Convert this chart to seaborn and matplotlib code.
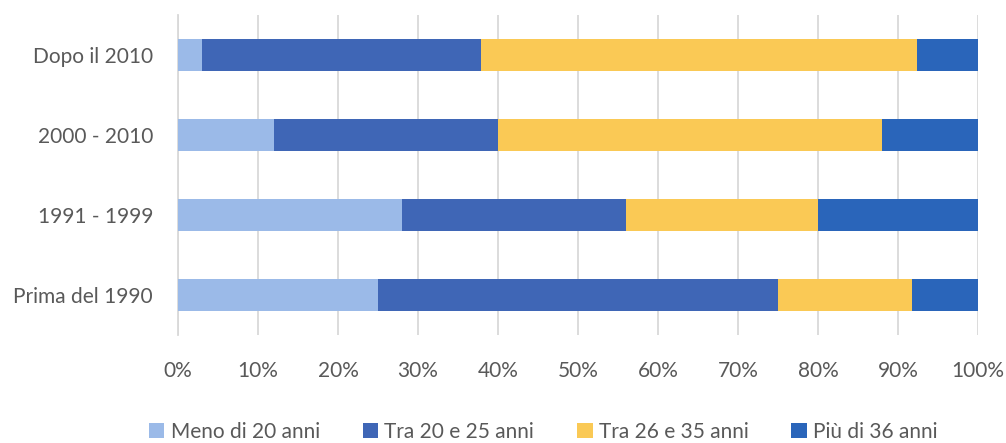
import matplotlib
matplotlib.use("Agg")
import matplotlib.pyplot as plt
import seaborn as sns
import numpy as np
import pandas as pd
from matplotlib.patches import Patch

# Periodi (dall'alto verso il basso)
periodi = ["Dopo il 2010", "2000 - 2010", "1991 - 1999", "Prima del 1990"]

# Quote percentuali per fascia d'età
meno_20 = [3.0, 12.0, 28.0, 25.0]
tra_20_25 = [34.9, 28.0, 28.0, 50.0]
tra_26_35 = [54.5, 48.0, 24.0, 16.7]
piu_36 = [7.6, 12.0, 20.0, 8.3]

serie = ["Meno di 20 anni", "Tra 20 e 25 anni", "Tra 26 e 35 anni", "Più di 36 anni"]
valori = [meno_20, tra_20_25, tra_26_35, piu_36]
colori = ["#9BBAE8", "#3F66B6", "#FAC955", "#2A65BA"]

x_ticks = [0, 10, 20, 30, 40, 50, 60, 70, 80, 90, 100]
x_labels = [f"{t}%" for t in x_ticks]

sns.set_theme(style="white")
plt.rcParams["font.family"] = ["Lato", "DejaVu Sans"]
testo = "#595959"
griglia = "#D9D9D9"
fs = 15

fig = plt.figure(figsize=(10.06, 4.43), dpi=100)
ax = fig.add_axes([178 / 1006, (443 - 335) / 443, 800 / 1006, 320 / 443])

# Barre impilate: si disegnano i cumulati dal più lungo al più corto
cumulati = np.cumsum(np.array(valori), axis=0)
for i in range(len(serie) - 1, -1, -1):
    df = pd.DataFrame({"periodo": periodi, "valore": cumulati[i]})
    sns.barplot(data=df, x="valore", y="periodo", order=periodi, orient="h",
                color=colori[i], saturation=1, width=0.4, linewidth=0, ax=ax, zorder=3)

ax.set_xlim(0, 100)
ax.set_ylim(3.5, -0.5)
ax.set_xticks(x_ticks)
ax.set_xticklabels(x_labels)
ax.set_xlabel("")
ax.set_ylabel("")
ax.grid(axis="x", color=griglia, linewidth=1.3, zorder=0)
ax.grid(axis="y", visible=False)
ax.set_axisbelow(True)
for s in ["top", "right", "bottom"]:
    ax.spines[s].set_visible(False)
ax.spines["left"].set_color(griglia)
ax.spines["left"].set_linewidth(1.3)
ax.tick_params(axis="x", length=0, pad=19, labelsize=fs, labelcolor=testo)
ax.tick_params(axis="y", length=0, pad=18, labelsize=fs, labelcolor=testo)

handles = [Patch(facecolor=c, edgecolor="none") for c in colori]
fig.legend(handles, serie, loc="center", bbox_to_anchor=(0.54, 1 - 432 / 443),
           ncol=4, frameon=False, fontsize=fs, labelcolor=testo,
           handlelength=0.75, handleheight=0.75, handletextpad=0.3, columnspacing=2.05)

fig.savefig("out.png", dpi=100)
